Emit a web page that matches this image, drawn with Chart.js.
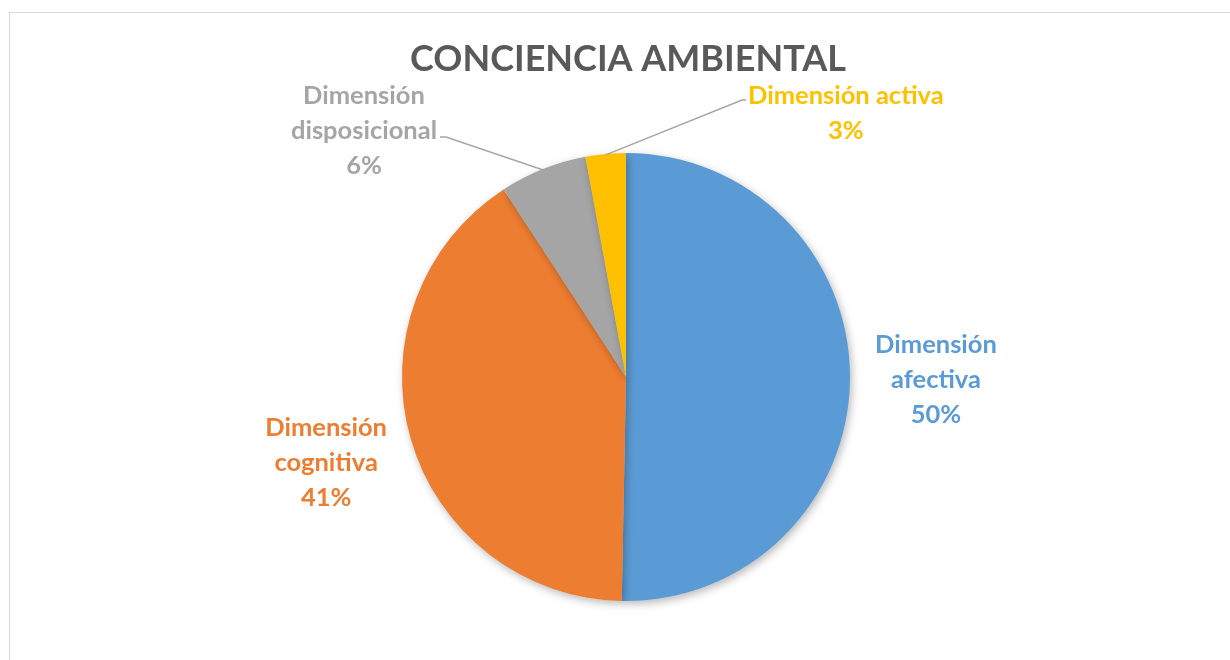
<!DOCTYPE html>
<html>
<head>
<meta charset="utf-8">
<script src="https://cdn.jsdelivr.net/npm/chart.js@4/dist/chart.umd.min.js"></script>
<style>
	body { margin: 0; background: #fff; }
	#frame { position: absolute; left: 9px; top: 12px; width: 1240px; height: 700px; border-left: 1px solid #d9d9d9; border-top: 1px solid #d9d9d9; }
	#wrap { position: absolute; left: 0; top: 0; width: 1230px; height: 660px; }
</style>
</head>
<body>
<div id="frame"></div>
<div id="wrap"><canvas id="myChart" width="1230" height="660"></canvas></div>
<script>
let Categories = ["Dimensión afectiva", "Dimensión cognitiva", "Dimensión disposicional", "Dimensión activa"]
let Percentages = [50.3, 40.5, 6.3, 2.9]
let PercentLabels = ["50%", "41%", "6%", "3%"]
let LabelLines = [["Dimensión", "afectiva"], ["Dimensión", "cognitiva"], ["Dimensión", "disposicional"], ["Dimensión activa"]]
let Colors = ["#5b9bd5", "#ed7d31", "#a5a5a5", "#ffc000"]

let TitleText = "CONCIENCIA AMBIENTAL"

// label placement per slice: distance from centre, or leader line with elbow
let LabelStyle = [
	{ dist: 310 },
	{ dist: 312 },
	{ elbow: [-180, -240], end: -6, align: 'right' },
	{ elbow: [116, -277], end: 4, align: 'left' }
]

let shadowPlugin = {
	id: 'shadow',
	beforeDatasetsDraw(chart) {
		let c = chart.ctx
		c.save()
		c.shadowColor = 'rgba(0,0,0,0.28)'
		c.shadowBlur = 9
		c.shadowOffsetX = 2
		c.shadowOffsetY = 3
	},
	afterDatasetsDraw(chart) {
		chart.ctx.restore()
	}
}

let labelPlugin = {
	id: 'sliceLabels',
	afterDraw(chart) {
		let c = chart.ctx
		let arcs = chart.getDatasetMeta(0).data
		c.save()
		// title
		c.fillStyle = '#595959'
		c.font = 'bold 36px Lato'
		c.textAlign = 'center'
		c.textBaseline = 'middle'
		c.fillText(TitleText, 628, 59)

		c.font = 'bold 25.5px Lato'
		let lh = 35
		arcs.forEach((arc, i) => {
			let mid = (arc.startAngle + arc.endAngle) / 2
			let st = LabelStyle[i]
			let lines = LabelLines[i].concat([PercentLabels[i]])
			c.fillStyle = Colors[i]
			if (st.dist) {
				let x = arc.x + Math.cos(mid) * st.dist
				let y = arc.y + Math.sin(mid) * st.dist
				c.textAlign = 'center'
				lines.forEach((t, k) => c.fillText(t, x, y + (k - (lines.length - 1) / 2) * lh))
			} else {
				let sx = arc.x + Math.cos(mid) * (arc.outerRadius - 1)
				let sy = arc.y + Math.sin(mid) * (arc.outerRadius - 1)
				let ex = arc.x + st.elbow[0]
				let ey = arc.y + st.elbow[1]
				let hx = ex + st.end
				c.strokeStyle = '#a6a6a6'
				c.lineWidth = 1.5
				c.beginPath()
				c.moveTo(sx, sy)
				c.lineTo(ex, ey)
				c.lineTo(hx, ey)
				c.stroke()
				c.textAlign = 'center'
				let w = Math.max(...lines.map(t => c.measureText(t).width))
				if (st.align == 'right') {
					let cx = hx - 3 - w / 2
					lines.forEach((t, k) => c.fillText(t, cx, ey + (k - 1) * lh - 6))
				} else {
					let cx = hx + 2 + w / 2
					lines.forEach((t, k) => c.fillText(t, cx, ey + k * lh - 4))
				}
			}
		})
		c.restore()
	}
}

let ctx = document.getElementById("myChart").getContext('2d')
var myChart = new Chart(ctx, {
	type: 'pie',
	data: {
		labels: Categories,
		datasets: [{
			backgroundColor: Colors,
			borderWidth: 0,
			data: Percentages
		}]
	},
	options: {
		responsive: false,
		animation: false,
		layout: {
			padding: { top: 153, bottom: 59, left: 402, right: 380 }
		},
		plugins: {
			legend: { display: false },
			tooltip: { enabled: false }
		}
	},
	plugins: [shadowPlugin, labelPlugin]
})
</script>
</body>
</html>
